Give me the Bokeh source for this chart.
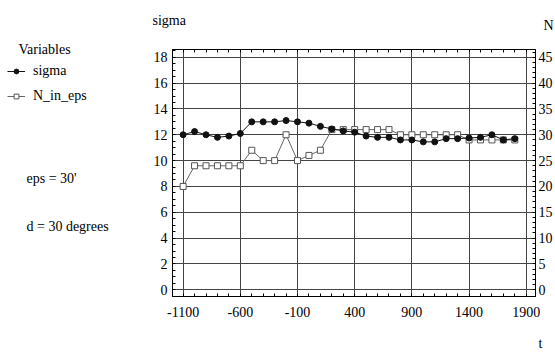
from bokeh.plotting import figure
from bokeh.models import (Range1d, LinearAxis, FixedTicker, Label,
                          ColumnDataSource, Legend, LegendItem)
from bokeh.layouts import row, column
from bokeh.embed import file_html
from bokeh.resources import INLINE

# ---------------- data ----------------
t_values = [-1100, -1000, -900, -800, -700, -600, -500, -400, -300, -200,
            -100, 0, 100, 200, 300, 400, 500, 600, 700, 800,
            900, 1000, 1100, 1200, 1300, 1400, 1500, 1600, 1700, 1800]
sigma = [12.0, 12.25, 12.0, 11.8, 11.9, 12.1, 13.0, 13.0, 13.0, 13.1,
         13.0, 12.9, 12.65, 12.45, 12.3, 12.2, 11.9, 11.8, 11.8, 11.6,
         11.6, 11.45, 11.45, 11.7, 11.7, 11.75, 11.8, 12.0, 11.6, 11.7]
n_in_eps = [20, 24, 24, 24, 24, 24, 27, 25, 25, 30,
            25, 26, 27, 31, 31, 31, 31, 31, 31, 30,
            30, 30, 30, 30, 30, 29, 29, 29, 29, 29]

x_ticks = [-1100, -600, -100, 400, 900, 1400, 1900]
x_tick_labels = ["-1100", "-600", "-100", "400", "900", "1400", "1900"]
y_ticks = [0, 2, 4, 6, 8, 10, 12, 14, 16, 18]
y_tick_labels = ["0", "2", "4", "6", "8", "10", "12", "14", "16", "18"]
n_ticks = [0, 5, 10, 15, 20, 25, 30, 35, 40, 45]
n_tick_labels = ["0", "5", "10", "15", "20", "25", "30", "35", "40", "45"]

x_minor = list(range(-1100, 2000, 100))
y_minor = [v / 2 for v in range(0, 38)]
n_minor = list(range(0, 47))

legend_title = "Variables"
series_names = ["sigma", "N_in_eps"]
notes = ["eps = 30'", "d = 30 degrees"]
left_axis_title = "sigma"
right_axis_title = "N"
x_axis_title = "t"

FONT = "Liberation Serif"
FS = "14px"
SIG_COLOR = "#111111"
N_LINE = "#666666"
N_EDGE = "#555555"

X0, X1 = -1193, 1981
Y0, Y1 = -0.52, 18.6


def blank_fig(w, h, xr, yr):
    f = figure(width=w, height=h, x_range=Range1d(*xr), y_range=Range1d(*yr),
               x_axis_type=None, y_axis_type=None, min_border=0,
               frame_align=False, toolbar_location=None, output_backend="svg")
    f.outline_line_color = None
    f.grid.visible = False
    return f


def add_text(f, txt, x, y, align="left"):
    f.add_layout(Label(x=x, y=y, text=txt, text_font=FONT, text_font_size=FS,
                       text_color="black", text_align=align, text_baseline="middle"))


# ---------------- main chart ----------------
p = figure(width=415, height=282, output_backend="svg", toolbar_location=None,
           x_range=Range1d(X0, X1), y_range=Range1d(Y0, Y1),
           min_border_left=32, min_border_right=18,
           min_border_top=9, min_border_bottom=26, frame_align=False)
p.extra_y_ranges = {"N": Range1d(Y0 * 2.5, Y1 * 2.5)}
p.outline_line_color = "black"

xt = FixedTicker(ticks=x_ticks, minor_ticks=x_minor)
yt = FixedTicker(ticks=y_ticks, minor_ticks=y_minor)
nt = FixedTicker(ticks=n_ticks, minor_ticks=n_minor)
top_t = FixedTicker(ticks=[], minor_ticks=x_minor)


def style_axis(ax):
    ax.axis_line_color = "black"
    ax.major_tick_in = 0
    ax.major_tick_out = 0
    ax.minor_tick_in = 3
    ax.minor_tick_out = 0
    ax.minor_tick_line_color = "black"
    ax.major_label_text_font = FONT
    ax.major_label_text_font_size = FS
    ax.major_label_text_color = "black"


p.xaxis.ticker = xt
p.xaxis.major_label_overrides = dict(zip(x_ticks, x_tick_labels))
style_axis(p.xaxis[0])
p.xaxis.major_label_standoff = 10

p.yaxis.ticker = yt
p.yaxis.major_label_overrides = dict(zip(y_ticks, y_tick_labels))
style_axis(p.yaxis[0])
p.yaxis.major_label_standoff = 5

top_ax = LinearAxis(ticker=top_t)
style_axis(top_ax)
top_ax.major_label_standoff = 0
p.add_layout(top_ax, "above")

right_ax = LinearAxis(y_range_name="N", ticker=nt,
                      major_label_overrides=dict(zip(n_ticks, n_tick_labels)))
style_axis(right_ax)
right_ax.major_label_standoff = 3
p.add_layout(right_ax, "right")

p.xgrid.ticker = xt
p.ygrid.ticker = yt
for g in (p.xgrid[0], p.ygrid[0]):
    g.grid_line_color = "#444444"
    g.grid_line_width = 1

src = ColumnDataSource(dict(t=t_values, sigma=sigma, n=n_in_eps))
p.line("t", "n", source=src, y_range_name="N", line_color=N_LINE, line_width=1)
p.scatter("t", "n", source=src, y_range_name="N", marker="square", size=6,
          line_color=N_EDGE, fill_color="white", line_width=1)
p.line("t", "sigma", source=src, line_color=SIG_COLOR, line_width=1)
p.scatter("t", "sigma", source=src, marker="circle", size=6,
          line_color=SIG_COLOR, fill_color=SIG_COLOR)

# ---------------- left panel: legend + notes ----------------
left = blank_fig(140, 354, (0, 140), (354, 0))
# proxy renderers (outside the visible area) that only feed the legend
proxy = ColumnDataSource(dict(x=[-30, -20], y=[-30, -30]))
lg_s_line = left.line("x", "y", source=proxy, line_color=SIG_COLOR, line_width=1)
lg_s_pt = left.scatter("x", "y", source=proxy, marker="circle", size=4,
                       line_color=SIG_COLOR, fill_color=SIG_COLOR)
lg_n_line = left.line("x", "y", source=proxy, line_color=N_LINE, line_width=1)
lg_n_pt = left.scatter("x", "y", source=proxy, marker="square", size=4,
                       line_color=N_EDGE, fill_color="white")
legend = Legend(items=[LegendItem(label=series_names[0], renderers=[lg_s_line, lg_s_pt], index=0),
                       LegendItem(label=series_names[1], renderers=[lg_n_line, lg_n_pt], index=0)],
                location=(7, 248), orientation="vertical",
                glyph_width=18, glyph_height=12, label_height=20, label_standoff=8,
                spacing=5, padding=0, margin=0,
                label_text_font=FONT, label_text_font_size=FS, label_text_color="black",
                border_line_color=None, background_fill_alpha=0)
left.add_layout(legend)
add_text(left, legend_title, 18, 49)
add_text(left, notes[0], 26, 178)
add_text(left, notes[1], 26, 226)

# ---------------- top strip: axis titles ----------------
top = blank_fig(415, 40, (140, 555), (40, 0))
add_text(top, left_axis_title, 152, 20)
add_text(top, right_axis_title, 543, 25)

# ---------------- bottom strip: x title ----------------
bottom = blank_fig(415, 32, (140, 555), (354, 322))
add_text(bottom, x_axis_title, 538, 343)

page = row(left, column(top, p, bottom))
open("out.html", "w").write(file_html(page, INLINE))
